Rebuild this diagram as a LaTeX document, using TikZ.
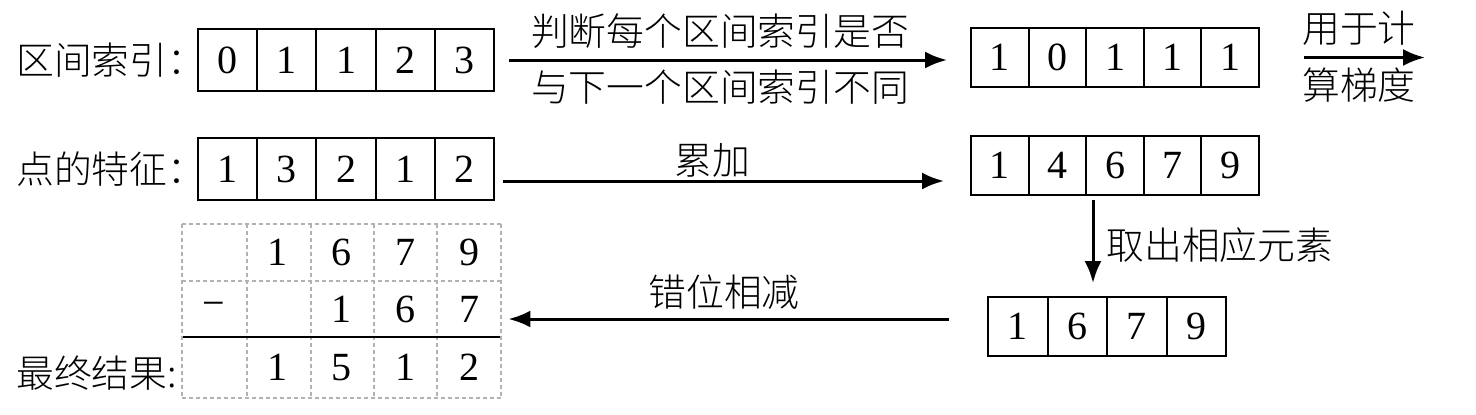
\documentclass[tikz,border=0pt]{standalone}
\usepackage{fontspec}
\setmainfont{Liberation Serif}
\newfontfamily\cjk{Noto Sans CJK SC Light}
\usetikzlibrary{arrows.meta}
\begin{document}
\begin{tikzpicture}[x=0.5pt,y=-0.5pt,
  lbl/.style={font=\cjk\fontsize{18.9}{22}\selectfont, inner sep=0pt},
  num/.style={font=\fontsize{20}{24}\selectfont, inner sep=0pt},
  cellbase/.style={draw, line width=1pt, num},
  boxA/.style={cellbase, minimum width=29.6pt, minimum height=31pt},
  boxC/.style={cellbase, minimum width=28.8pt, minimum height=29.5pt},
  boxE/.style={cellbase, minimum width=29.75pt, minimum height=29.5pt},
  gcell/.style={num, minimum width=31.9pt, minimum height=28pt},
  gridline/.style={draw=black!30, line width=0.6pt, dash pattern=on 2pt off 1.5pt},
  arr/.style={-{Latex[length=11pt,width=8.5pt]}, line width=1.5pt}]
\useasboundingbox (0,0) rectangle (1476,414);

% row labels
\node[lbl, anchor=west] (labA) at (16,60) {区间索引：};
\node[lbl, anchor=west] (labB) at (16,169) {点的特征：};
\node[lbl, anchor=west] (labG) at (16,373) {最终结果:};

% left top row
\foreach \v [count=\i] in {0,1,1,2,3}
  \node[boxA] (a\i) at ({198+59.2*(\i-0.5)},60) {\v};
% left middle row
\foreach \v [count=\i] in {1,3,2,1,2}
  \node[boxA] (b\i) at ({198+59.2*(\i-0.5)},169) {\v};
% right top row
\foreach \v [count=\i] in {1,0,1,1,1}
  \node[boxC] (c\i) at ({971+57.6*(\i-0.5)},57.5) {\v};
% right middle row
\foreach \v [count=\i] in {1,4,6,7,9}
  \node[boxC] (d\i) at ({971+57.6*(\i-0.5)},165.5) {\v};
% bottom right row
\foreach \v [count=\i] in {1,6,7,9}
  \node[boxE] (e\i) at ({988+59.5*(\i-0.5)},326.5) {\v};

% dashed grid
\foreach \xx in {182,247,311,374,437,501}
  \draw[gridline] (\xx,224) -- (\xx,398);
\foreach \yy in {224,281,398}
  \draw[gridline] (182,\yy) -- (501,\yy);
\draw[line width=1pt] (183,337) -- (500,337);

% grid contents
\foreach \v [count=\i] in {{},1,6,7,9}
  \node[gcell] (g1\i) at ({182+63.8*(\i-0.5)},252.5) {\v};
\foreach \v [count=\i] in {−,{},1,6,7}
  \node[gcell] (g2\i) at ({182+63.8*(\i-0.5)},309) {\v};
\foreach \v [count=\i] in {{},1,5,1,2}
  \node[gcell] (g3\i) at ({182+63.8*(\i-0.5)},367.5) {\v};

% arrows
\draw[arr, shorten <=7pt, shorten >=11.5pt] (a5.east) -- (a5.east -| c1.west);
\node[lbl] (t1) at (720,31) {判断每个区间索引是否};
\node[lbl] (t2) at (720,87) {与下一个区间索引不同};

\draw[arr, shorten <=4pt, shorten >=13pt] ([yshift=-6pt]b5.east) -- ([yshift=-6pt]b5.east -| d1.west);
\node[lbl] (t3) at (712,160) {累加};

\coordinate (gradout) at (1425,57.5);
\draw[arr, shorten <=22pt] (c5.east) -- (gradout);
\node[lbl] (t4) at (1359,28) {用于计};
\node[lbl] (t5) at (1359,85) {算梯度};

\draw[arr, shorten <=2pt, shorten >=6.5pt] ([xshift=-11pt]d3.south) -- ([xshift=-11pt]d3.south |- e1.north);
\node[lbl, anchor=west] (t6) at (1106,245) {取出相应元素};

\draw[arr, shorten <=19pt, shorten >=3.5pt] ([yshift=3.75pt]e1.west) -- ([yshift=3.75pt]e1.west -| g25.east);
\node[lbl] (t7) at (724,292) {错位相减};
\end{tikzpicture}
\end{document}
